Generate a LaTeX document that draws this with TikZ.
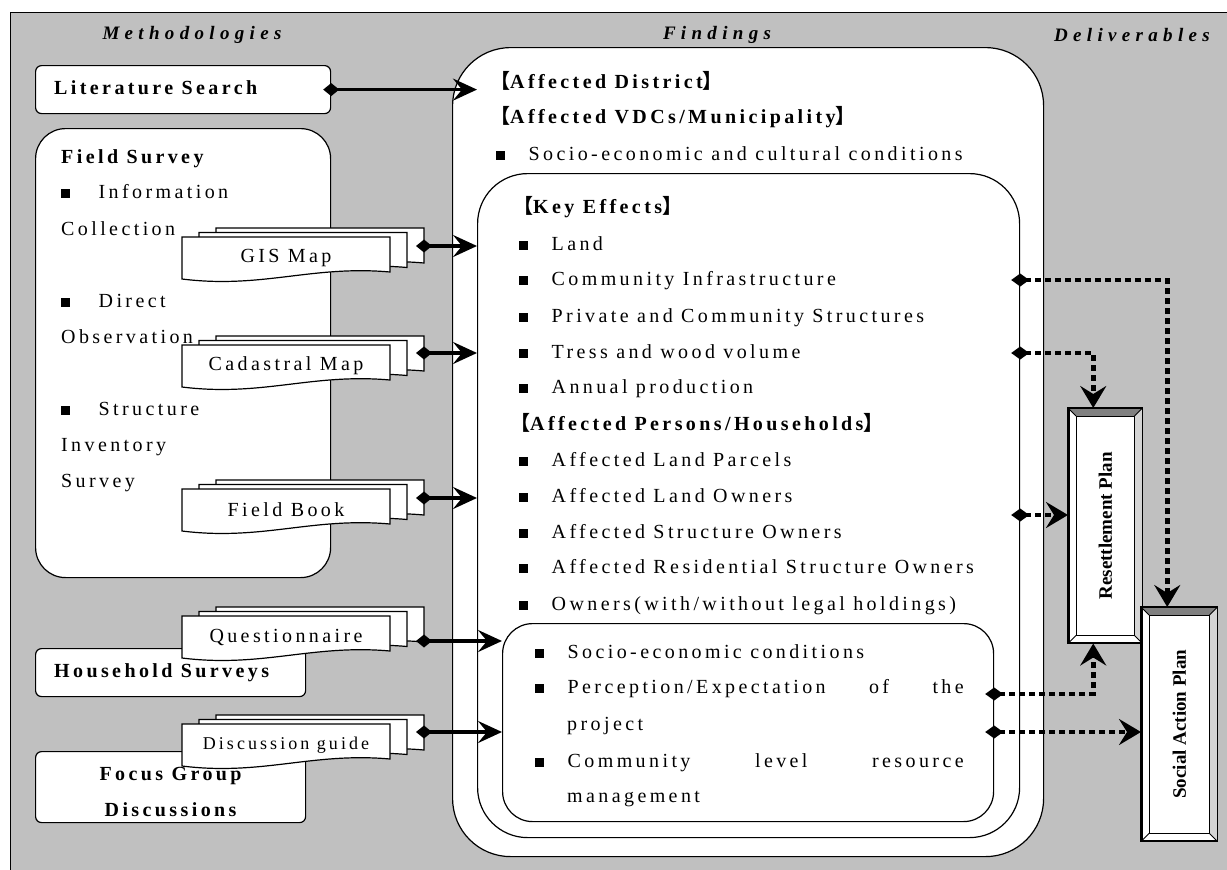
\documentclass[tikz,border=0pt]{standalone}
\usepackage{fontspec}
\setmainfont{Liberation Serif}
\newfontfamily\spc[LetterSpace=17]{Liberation Serif}
\newfontfamily\hdrfont[LetterSpace=28]{Liberation Serif}
\newfontfamily\cjk{Noto Sans CJK SC}
\usepackage{tikz}
\usetikzlibrary{arrows.meta,positioning,calc}
\definecolor{panel}{HTML}{C0C0C0}
\definecolor{bevdark}{HTML}{808080}
\definecolor{bevlight}{HTML}{D4D4D4}

\newcommand{\sq}[1][24pt]{\rule[0.5pt]{8.5pt}{8.5pt}\hspace{#1}}
\newcommand{\lb}{{\cjk\bfseries 【}}
\newcommand{\rb}{{\cjk\bfseries 】}}
\newcommand{\docshape}{(0,0) -- (208,0) -- (208,35) .. controls (130,28) and (80,52) .. (0,42) -- cycle}
% \docstack{name}{left}{front top}{arrow offset}{label}
\newcommand{\docstack}[5]{%
  \foreach \d in {2,1,0}
    \draw[doc, shift={(#2+17*\d,#3-4.5*\d)}] \docshape;
  \node[inner sep=0pt, font=\spc\fontsize{20}{24}\selectfont] (#1) at (#2+104,#3+21) {#5};
  \coordinate (#1-out) at (#2+242,#3+#4);
}

\tikzset{
  txt/.style={anchor=west, inner sep=0pt, text height=14pt, text depth=4pt,
    font=\spc\fontsize{20}{24}\selectfont},
  btxt/.style={txt, font=\spc\bfseries\fontsize{20}{24}\selectfont},
  hdr/.style={inner sep=0pt, font=\hdrfont\bfseries\itshape\fontsize{19}{22}\selectfont},
  box/.style={draw, line width=1.2pt, fill=white, anchor=north west, inner sep=0pt},
  doc/.style={draw, line width=1.2pt, fill=white},
  plan/.style={draw, line width=1.5pt, fill=white, anchor=north west, inner sep=0pt,
    font=\bfseries\fontsize{19}{22}\selectfont},
  link/.style={line width=3.5pt, shorten <=-8pt,
    {Diamond[length=16pt,width=13pt]}-{Stealth[length=24pt,width=22pt,inset=9pt]}},
  dotlink/.style={line width=4.5pt, dash pattern=on 6pt off 4pt, shorten <=-9pt,
    {Diamond[length=18pt,width=13pt]}-{Stealth[length=22pt,width=26pt,inset=8pt]}}
}

\begin{document}
\begin{tikzpicture}[x=1pt,y=-1pt]
\useasboundingbox (0,0) rectangle (1227,870);
\draw[fill=panel, line width=1pt] (10,12) rectangle (1240,880);

% column titles
\node[hdr] (t1) at (192,35) {Methodologies};
\node[hdr] (t2) at (717,35) {Findings};
\node[hdr] (t3) at (1132,35) {Deliverables};

% methodologies
\node[box, rounded corners=6pt, minimum width=295pt, minimum height=48pt] (litsearch) at (35,65) {};
\node[btxt, right=19pt of litsearch.west] (littxt) {Literature Search};
\node[box, rounded corners=30pt, minimum width=295pt, minimum height=449pt] (field) at (35,128) {};
\node[btxt] (fs0) at (61,158) {Field Survey};
\foreach \yy/\tt in {193/{\sq[29pt]Information}, 230/Collection, 302/{\sq[29pt]Direct},
    338/Observation, 410/{\sq[29pt]Structure}, 446/Inventory, 482/Survey}
  \node[txt] (fs\yy) at (61,\yy) {\tt};
\node[box, rounded corners=6pt, minimum width=270pt, minimum height=48pt] (house) at (35,648) {};
\node[btxt, right=19pt of house.west] (housetxt) {Household Surveys};
\node[box, rounded corners=6pt, minimum width=270pt, minimum height=71pt] (focus) at (35,751) {};
\node[align=center, inner sep=0pt, font=\spc\bfseries\fontsize{20}{36}\selectfont]
  (focustxt) at ([yshift=-5pt]focus.center) {Focus Group\\Discussions};

% findings
\node[box, rounded corners=58pt, minimum width=591pt, minimum height=809pt] (findings) at (452,47) {};
\node[box, rounded corners=50pt, minimum width=542pt, minimum height=664pt] (keyfx) at (477,173) {};
\node[box, rounded corners=30pt, minimum width=491pt, minimum height=198pt] (socio) at (502,623) {};

\node[btxt] (dist) at (490,83) {\lb Affected District\rb};
\node[btxt] (vdc) at (490,118) {\lb Affected VDCs/Municipality\rb};
\node[txt] (soccult) at (496,155) {\sq Socio-economic and cultural conditions};
\node[btxt] (keyhd) at (513,208) {\lb Key Effects\rb};
\node[txt] (land) at (519,245) {\sq Land};
\node[txt] (comminf) at (519,280) {\sq Community Infrastructure};
\node[txt] (privcomm) at (519,317) {\sq Private and Community Structures};
\node[txt] (tress) at (519,353) {\sq Tress and wood volume};
\node[txt] (annual) at (519,388) {\sq Annual production};
\node[btxt] (pershd) at (510,425) {\lb Affected Persons/Households\rb};
\node[txt] (parcels) at (519,461) {\sq Affected Land Parcels};
\node[txt] (landown) at (519,497) {\sq Affected Land Owners};
\node[txt] (strown) at (519,533) {\sq Affected Structure Owners};
\node[txt] (resown) at (519,568) {\sq Affected Residential Structure Owners};
\node[txt] (owners) at (519,605) {\sq Owners(with/without legal holdings)};
\node[txt] (socecon) at (535,653) {\sq Socio-economic conditions};
\node[txt] (percept) at (535,688) {\sq\makebox[396pt][s]{Perception/Expectation\hfill of\hfill the}};
\node[txt] (project) at (567,725) {project};
\node[txt] (commlvl) at (535,762) {\sq\makebox[396pt][s]{Community\hfill level\hfill resource}};
\node[txt] (mgmt) at (567,797) {management};

% document stacks
\docstack{gis}{182}{237}{9}{GIS Map}
\docstack{cadastral}{182}{345}{8}{Cadastral Map}
\docstack{fieldbook}{182}{489}{9}{Field Book}
\docstack{quest}{182}{616}{25}{Questionnaire}
\docstack{discuss}{182}{724}{8}{\fontsize{18}{22}\selectfont Discussion guide}

% deliverables
\node[plan, minimum width=73pt, minimum height=234pt] (resplan) at (1068,408) {};
\node[plan, minimum width=75pt, minimum height=233pt] (sap) at (1141,607) {};
\foreach \p in {resplan,sap}{
  \fill[bevdark] (\p.north west) -- (\p.north east) -- ([shift={(-8pt,-8pt)}]\p.north east)
    -- ([shift={(8pt,-8pt)}]\p.north west) -- cycle;
  \fill[bevlight] (\p.north east) -- (\p.south east) -- ([shift={(-8pt,8pt)}]\p.south east)
    -- ([shift={(-8pt,-8pt)}]\p.north east) -- cycle;
  \draw[line width=1pt] ([shift={(8pt,-8pt)}]\p.north west) rectangle ([shift={(-8pt,8pt)}]\p.south east);
  \draw[line width=1pt] (\p.north west) -- ++(8pt,-8pt) (\p.north east) -- ++(-8pt,-8pt)
    (\p.south west) -- ++(8pt,8pt) (\p.south east) -- ++(-8pt,8pt);
  \draw[line width=1.5pt] (\p.north west) rectangle (\p.south east);
}
\node[rotate=90, font=\bfseries\fontsize{19}{22}\selectfont] (restxt) at (resplan) {Resettlement Plan};
\node[rotate=90, font=\bfseries\fontsize{19}{22}\selectfont] (saptxt) at (sap) {Social Action Plan};

% connectors
\draw[link] (litsearch.east) -- (litsearch.east -| keyfx.west);
\foreach \s in {gis,cadastral,fieldbook}
  \draw[link] (\s-out) -- (\s-out -| keyfx.west);
\foreach \s in {quest,discuss}
  \draw[link] (\s-out) -- (\s-out -| socio.west);

\coordinate (own) at ($(landown)!0.5!(strown)$);
\draw[dotlink] (comminf -| keyfx.east) -| ([xshift=-12pt]sap.north);
\draw[dotlink] (tress -| keyfx.east) -| ([xshift=-12pt]resplan.north);
\draw[dotlink] (own -| keyfx.east) -- (own -| resplan.west);
\draw[dotlink] ([yshift=-6pt]percept -| socio.east) -| ([xshift=-12pt]resplan.south);
\draw[dotlink] ([yshift=-7pt]project -| socio.east) -- ([yshift=-7pt]project -| sap.west);
\end{tikzpicture}
\end{document}
